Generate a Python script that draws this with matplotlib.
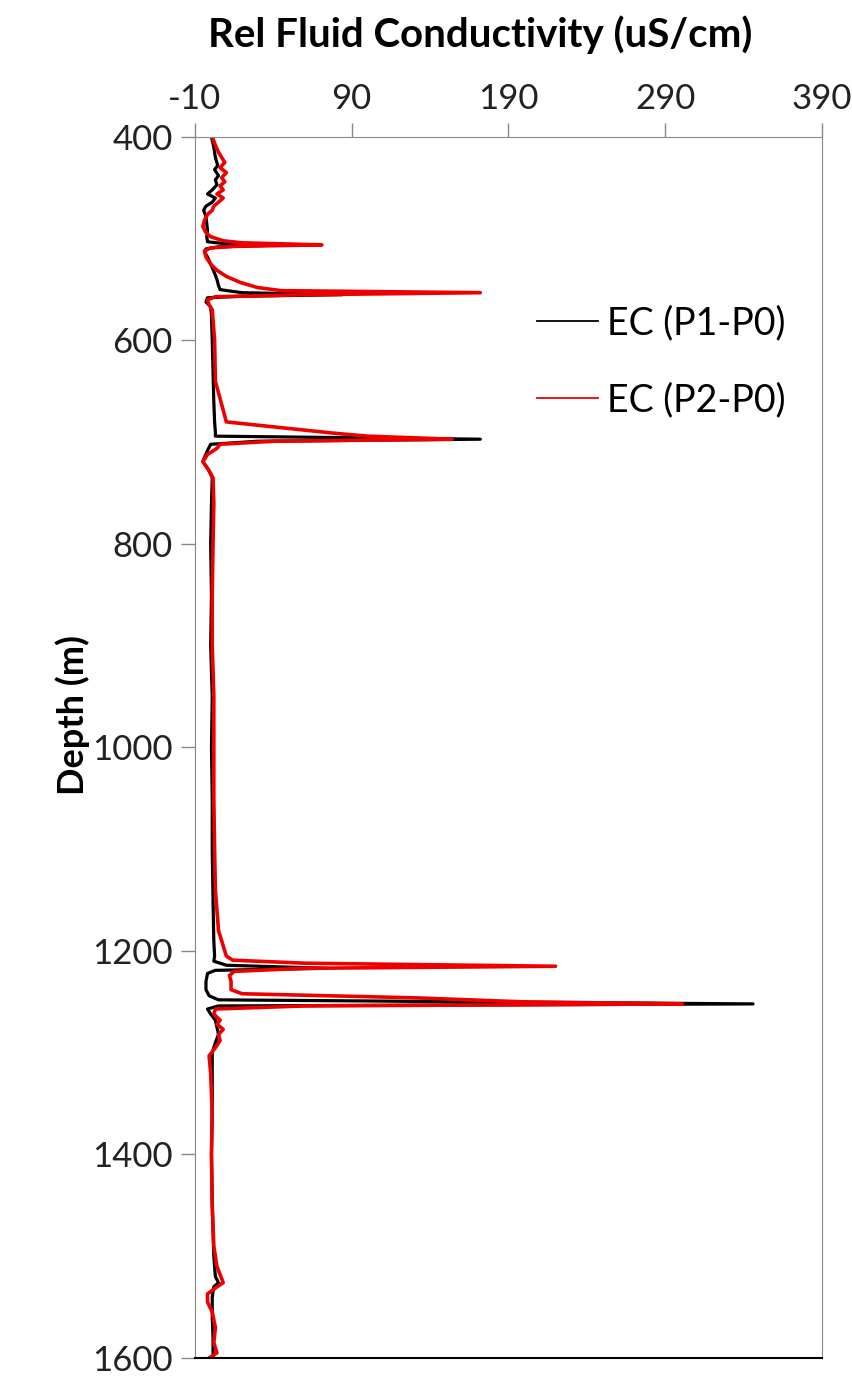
import matplotlib.pyplot as plt
from matplotlib.lines import Line2D

# Depth (m) and relative conductivity (uS/cm)
depth_p1 = [400, 410, 420, 428, 432, 438, 442, 447, 452, 456, 460, 464, 468, 472, 478,
            485, 492, 498, 503, 505, 506.5, 508, 510, 513, 518, 525, 532, 540, 546, 550,
            553, 555, 556.5, 558, 562, 567, 575, 600, 630, 660, 680, 690, 694, 697, 699,
            702, 708, 719, 728, 735, 760, 800, 850, 900, 950, 1000, 1050, 1100, 1150,
            1190, 1205, 1210, 1214, 1217, 1219, 1222, 1230, 1238, 1244, 1248, 1252, 1254,
            1257, 1262, 1268, 1275, 1282, 1290, 1300, 1350, 1400, 1450, 1500, 1520, 1526,
            1530, 1540, 1560, 1580, 1600]
ec_p1 = [0.5, 2, 3, 4.5, 2.5, 5, 3, 4, 1, -2, 3, 1, -3, -4.5, -3,
         -2.5, -2, -2.5, -2, 10, 36, 5, -3, -4, -2, 0, 2, 4, 5, 6,
         20, 84, 20, -2, -3, 0, 0.5, 1, 1.5, 2, 2.5, 3, 3, 172, 30,
         0, -2, -5, -1, 1, 0.5, 0, 0.5, 0, 1, 0.5, 1, 1, 1.5,
         2, 2.5, 2, 10, 74, 3, -2, -3, -3, -1, 5, 346, 5,
         -2, 0, 3, 4, 5, 3, 1, 1, 0.5, 1, 2, 3, 5,
         2, 1, 1, 1.5, 1.5]

depth_p2 = [400, 408, 415, 420, 425, 430, 435, 440, 444, 448, 452, 456, 460, 464, 468,
            472, 476, 482, 488, 494, 498, 502, 504, 506, 507.5, 509, 512, 518, 525, 531,
            537, 543, 548, 551, 553, 555, 557, 560, 565, 570, 600, 640, 680, 691, 694,
            697, 699, 702, 706, 712, 719, 728, 735, 760, 800, 850, 900, 950, 1000, 1050,
            1100, 1140, 1160, 1180, 1195, 1205, 1209, 1212, 1215, 1217, 1220, 1224, 1230,
            1238, 1242, 1246, 1250, 1252, 1254, 1257, 1262, 1268, 1272, 1277, 1282, 1288,
            1295, 1303, 1320, 1360, 1400, 1450, 1490, 1500, 1510, 1518, 1526, 1530, 1537,
            1545, 1555, 1570, 1585, 1595, 1600]
ec_p2 = [1, 3, 5, 7, 9, 6, 10, 7, 9, 6, 8, 4, 8, 5, 2,
         1, -2, -4, -5, -3, 0, 8, 20, 71, 15, 0, -4, -3, 0, 4,
         10, 19, 30, 45, 172, 60, 3, -2, -1, 1, 2.5, 3, 10, 78, 100,
         154, 40, 6, 4, -2, -5, -1, 1.5, 2, 1.5, 1, 1, 2, 2, 2,
         2.5, 3, 4, 5, 8, 10, 14, 60, 220, 60, 15, 12, 13,
         13, 20, 130, 200, 301, 60, 3, 2, 6, 4, 8, 5, 6,
         3, -1, 0, 1, 0.5, 1, 2, 3, 4, 6, 8, 4, -2,
         -2, 1, 3, 2, 4, -1]

x_ticks = [-10, 90, 190, 290, 390]
y_ticks = [400, 600, 800, 1000, 1200, 1400, 1600]

plt.rcParams['font.family'] = ['Lato', 'DejaVu Sans']
plt.rcParams['axes.unicode_minus'] = False

fig = plt.figure(figsize=(8.53, 13.8), dpi=100)
ax = fig.add_axes([195/853, 1 - 1358/1380, 627/853, 1221/1380])

ax.plot(ec_p1, depth_p1, color='black', lw=2.3)
ax.plot(ec_p2, depth_p2, color='#ee0000', lw=2.6)

ax.set_xlim(-10, 390)
ax.set_ylim(1600, 400)
ax.set_xticks(x_ticks)
ax.set_yticks(y_ticks)
ax.xaxis.tick_top()
ax.xaxis.set_label_position('top')
ax.tick_params(axis='both', direction='out', length=10, width=1, color='#888888',
               labelsize=25, labelcolor='#222222')
ax.tick_params(axis='x', pad=6)
ax.tick_params(axis='y', pad=6)

for side in ['top', 'left', 'right']:
    ax.spines[side].set_color('#888888')
ax.spines['bottom'].set_color('black')
ax.spines['bottom'].set_linewidth(1.5)

ax.set_xlabel('Rel Fluid Conductivity (uS/cm)', fontsize=29, fontweight='bold')
ax.xaxis.set_label_coords((480 - 195) / 627, (1358 - 47) / 1221)
ax.set_ylabel('Depth (m)', fontsize=26, fontweight='bold')
ax.yaxis.set_label_coords((90 - 195) / 627, (1358 - 715) / 1221)

handles = [Line2D([], [], color='black', lw=1.3, label='EC (P1-P0)'),
           Line2D([], [], color='#ee0000', lw=1.3, label='EC (P2-P0)')]
fig.legend(handles=handles, loc='upper left', bbox_to_anchor=(537/853, 1 - 305/1380),
           frameon=False, fontsize=27, handlelength=1.63, handletextpad=0.24,
           labelspacing=1.1, borderpad=0, borderaxespad=0)

fig.savefig('out.png', dpi=100)
